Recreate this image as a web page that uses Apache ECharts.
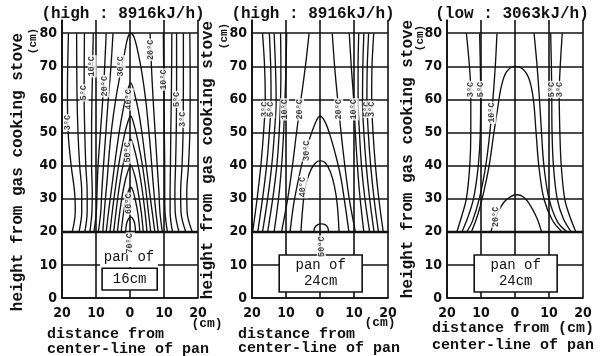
<!DOCTYPE html>
<html><head><meta charset="utf-8">
<script src="https://cdn.jsdelivr.net/npm/echarts@6/dist/echarts.min.js"></script>
<style>html,body{margin:0;padding:0;background:#fff}#c{width:609px;height:356px}</style>
</head><body><div id="c"></div>
<script>
// ---------- data ----------
const yTicks = [0, 10, 20, 30, 40, 50, 60, 70, 80];
const titles = ['(high : 8916kJ/h)', '(high : 8916kJ/h)', '(low : 3063kJ/h)'];
const panSizes = [16, 24, 24];
const yName = 'height from gas cooking stove';
const xName1 = ['distance from', 'distance from', 'distance from (cm)'];
const xName2 = 'center-line of pan';

// panel 1 : high 8916 kJ/h, pan of 16cm  (x cm, y cm)
const panel1Lines = [
  [[-18.1,80],[-18.4,62],[-18.2,50],[-17.3,40],[-16.3,32],[-16.1,26],[-17,20]],
  [[-15.7,80],[-15.6,62],[-15.3,50],[-14.8,40],[-14.2,32],[-14.2,26],[-15,20]],
  [[-13.4,80],[-13.5,62],[-13.3,50],[-13,40],[-12.6,32],[-12.6,26],[-13.3,20]],
  [[-10.8,80],[-11.1,65],[-11.3,50],[-11.3,40],[-11.1,32],[-11.2,26],[-11.8,20]],
  [[-7.0,80],[-7.7,65],[-8.7,50],[-9.4,40],[-9.7,32],[-9.9,26],[-10.6,20]],
  [[-5.0,80],[-5.6,70],[-6.4,60],[-7.1,50],[-7.8,40],[-8.3,32],[-8.6,26],[-9.3,20]],
  [[-8,20],[-7.4,28],[-6.7,36],[-6.1,44],[-5.3,52],[-4.2,60],[-2.8,68],[-1.6,74],[-0.7,78.5],[0.2,80],[1.2,78.8],[2.4,74],[3.5,68],[4.6,60],[5.4,52],[6.1,44],[6.7,36],[7.4,28],[8.3,20]],
  [[-7,20],[-6.2,27],[-5.3,34],[-4.3,42],[-3.2,50],[-2.1,56.5],[-1,61.5],[0.2,65],[1.4,61.5],[2.5,56.5],[3.5,50],[4.5,42],[5.5,34],[6.4,27],[7.3,20]],
  [[-5.9,20],[-5.1,27],[-4.2,34],[-3.2,41],[-2.1,47],[-1.1,51.5],[0.2,55],[1.4,51.5],[2.4,47],[3.5,41],[4.5,34],[5.3,27],[6.1,20]],
  [[-4.8,20],[-4,27],[-3.1,34],[-2.1,40],[-1.1,44.5],[0.2,48],[1.4,44.5],[2.4,40],[3.4,34],[4.3,27],[5,20]],
  [[-3.7,20],[-3,26],[-2.1,32],[-1,37],[0.2,40],[1.4,37],[2.4,32],[3.3,26],[3.9,20]],
  [[-2.6,20],[-2,25],[-1.3,29],[-0.5,32.3],[0.2,33.5],[0.9,32.3],[1.7,29],[2.4,25],[2.9,20]],
  [[-1.3,20],[-1,22.5],[-0.4,24],[0.2,24.5],[0.8,24],[1.4,22.5],[1.6,20]],
  [[5.9,80],[6.3,70],[6.8,60],[7.4,50],[8,40],[8.5,32],[8.8,26],[9.5,20]],
  [[9.8,80],[9.9,70],[10,60],[10.1,50],[10.2,40],[10.2,32],[10.3,26],[11,20]],
  [[12.3,80],[12.2,65],[12,50],[11.9,40],[11.8,32],[11.8,26],[12.5,20]],
  [[13.7,80],[13.7,65],[13.6,50],[13.4,40],[13.2,32],[13.3,26],[14.4,20]],
  [[15.7,80],[15.7,65],[15.6,50],[15.3,40],[14.9,32],[15,26],[16.4,20]],
  [[17.6,80],[17.7,65],[17.6,50],[17.2,40],[16.7,32],[16.8,26],[18.3,20]]
];
const panel1Labels = [
  [-18.2,53,'3°C'],[-13.5,62,'5°C'],[-11.1,70,'10°C'],[-7.4,64,'20°C'],[-2.6,70,'30°C'],
  [-0.2,60,'40°C'],[-0.6,44,'50°C'],[-0.4,28.5,'60°C'],[0.1,16.5,'70°C'],
  [6.1,75,'20°C'],[9.9,66,'10°C'],[13.7,60,'5°C'],[15.6,54,'3°C']
];

// panel 2 : high 8916 kJ/h, pan of 24cm
const panel2Lines = [
  [[-16.9,80],[-16.3,70],[-16.1,60],[-16.6,50],[-17.4,40],[-18.5,30],[-19.8,20]],
  [[-14.9,80],[-14.5,70],[-14.4,60],[-14.9,50],[-15.7,40],[-16.9,30],[-18.3,20]],
  [[-13.5,80],[-13.1,70],[-12.9,60],[-13.4,50],[-14.2,40],[-15.4,30],[-16.9,20]],
  [[-11.6,80],[-11.5,70],[-11.6,60],[-12,50],[-12.7,40],[-13.9,30],[-15.4,20]],
  [[-9.8,80],[-10,70],[-10.3,60],[-10.7,50],[-11.3,40],[-12.2,30],[-13.5,20]],
  [[-3.2,80],[-4.3,70],[-5.6,60],[-6.9,50],[-8.1,40],[-9.5,30],[-11.3,20]],
  [[-8.8,20],[-7.8,28],[-6.7,34],[-5.2,41],[-3.4,47],[-1.6,52.3],[0,55],[1.6,53],[3.3,48],[4.9,42],[6.2,36],[7.4,28],[8.5,20]],
  [[-5.6,20],[-5.1,27],[-4.4,33],[-3.2,37.5],[-1.6,40.5],[0,41.5],[1.6,40.8],[3.1,38],[4.3,33.5],[5.1,28],[5.6,20]],
  [[-1.8,20],[-1.6,21.2],[-0.8,22.1],[0.4,22.4],[1.6,22.1],[2.3,21.2],[2.5,20]],
  [[3.6,80],[4.3,70],[5.2,60],[6.2,50],[7.3,40],[8.6,30],[10.4,20]],
  [[8.6,80],[9.2,70],[9.9,60],[10.4,50],[11,40],[11.8,30],[12.9,20]],
  [[11.4,80],[11.2,70],[11.2,60],[11.6,50],[12.2,40],[13.2,30],[14.6,20]],
  [[12.9,80],[12.6,70],[12.5,60],[12.9,50],[13.6,40],[14.6,30],[15.9,20]],
  [[14.3,80],[13.9,70],[13.8,60],[14.2,50],[14.9,40],[15.9,30],[17.2,20]],
  [[15.8,80],[15.3,70],[15.2,60],[15.6,50],[16.3,40],[17.3,30],[18.6,20]]
];
const panel2Labels = [
  [-16.2,57,'3°C'],[-14.5,57,'5°C'],[-10.4,57,'10°C'],[-6.0,57,'20°C'],[-3.9,44.5,'30°C'],
  [-4.9,33.5,'40°C'],[0.4,15.5,'50°C'],[5.5,57,'20°C'],[10.1,57,'10°C'],[13.9,57,'5°C'],[15.3,57,'3°C']
];

// panel 3 : low 3063 kJ/h, pan of 24cm
const panel3Lines = [
  [[-14.3,80],[-13.4,70],[-13,62],[-13,50],[-13.3,40],[-14.3,30],[-15.6,25],[-17.1,20]],
  [[-10.4,80],[-10.2,70],[-10.1,62],[-10.2,50],[-10.8,40],[-12.2,30],[-14,24],[-15.6,20]],
  [[-5.3,80],[-5.8,70],[-6.5,60],[-7.4,50],[-8.6,40],[-10.5,30],[-12.6,23],[-14.2,20]],
  [[-12.8,20],[-11,25],[-9.2,32],[-7.6,40],[-6.2,50],[-5,58],[-4,64],[-2.5,68.3],[0,70],[2.5,69],[4.2,66],[5.4,60],[6.2,50],[7,40],[8.5,30],[11,23.5],[13.8,20]],
  [[5.6,80],[6.5,70],[7.2,60],[7.8,50],[8.5,40],[10,30],[12.5,23],[15.3,20]],
  [[10.5,80],[10.7,70],[10.8,62],[10.9,50],[11.3,40],[12.4,30],[14.2,24],[16.5,20]],
  [[13.9,80],[13.3,70],[13,62],[13.2,50],[13.6,40],[14.6,30],[16,25],[17.9,20]],
  [[-7.1,20],[-5.4,25],[-3.2,29],[-1,30.8],[0.5,31.2],[2.5,30.5],[4.5,28],[6.5,24],[7.8,20]]
];
const panel3Labels = [
  [-13,63,'3°C'],[-10.1,63,'5°C'],[-6.8,56,'10°C'],[-5.6,24.5,'20°C'],[10.8,63,'5°C'],[13.1,63,'3°C']
];

// ---------- layout / style ----------
const panels = [panel1Lines, panel2Lines, panel3Lines];
const panelLabels = [panel1Labels, panel2Labels, panel3Labels];
const gridLefts = [62, 252, 447];
const GW = 136, GT = 20, GH = 278;
const INK = '#111';
const MONO = '"Liberation Mono", "DejaVu Sans Mono", monospace';
const NUM = '"Liberation Sans Narrow", "DejaVu Sans Condensed", "Liberation Sans", sans-serif';

const grids = [], xAxes = [], yAxes = [], series = [], graphics = [];
gridLefts.forEach((left, i) => {
  grids.push({ left: left, top: GT, width: GW, height: GH });
  xAxes.push({
    type: 'value', gridIndex: i, min: -20, max: 20, interval: 10,
    axisLine: { show: true, onZero: false, lineStyle: { color: INK, width: 1.7 } },
    axisTick: { show: false },
    splitLine: { show: true, lineStyle: { color: INK, width: 1.6 } },
    axisLabel: { formatter: v => String(Math.abs(v)), color: INK, fontFamily: NUM, fontWeight: 'bold', fontSize: 14, margin: 8 }
  });
  yAxes.push({
    type: 'value', gridIndex: i, min: 0, max: 84, interval: 10,
    axisLine: { show: true, onZero: false, lineStyle: { color: INK, width: 1.7 } },
    axisTick: { show: false },
    splitLine: { show: false },
    axisLabel: { formatter: v => (v > 80 ? '' : String(v)), color: INK, fontFamily: NUM, fontWeight: 'bold', fontSize: 14, margin: 5 }
  });
  const half = panSizes[i] / 2;
  const areas = [];
  if (i === 0) {
    areas.push([{ coord: [-8.8, 9.4], itemStyle: { color: '#fff', borderWidth: 0 },
                  label: { show: true, position: 'inside', formatter: 'pan of', color: INK, fontFamily: MONO, fontSize: 14, offset: [0, -1] } },
                { coord: [8.2, 14.4] }]);
    areas.push([{ coord: [-half - 0.2, 2.4], itemStyle: { color: '#fff', borderColor: INK, borderWidth: 1.6 },
                  label: { show: true, position: 'inside', formatter: panSizes[i] + 'cm', color: INK, fontFamily: MONO, fontSize: 14 } },
                { coord: [half, 9] }]);
  } else {
    areas.push([{ coord: [-half, 1.8], itemStyle: { color: '#fff', borderColor: INK, borderWidth: 1.6 },
                  label: { show: true, position: 'inside', formatter: 'pan of\n' + panSizes[i] + 'cm', color: INK, fontFamily: MONO, fontSize: 14, lineHeight: 16 } },
                { coord: [half + 0.4, 13] }]);
  }
  series.push({
    type: 'line', xAxisIndex: i, yAxisIndex: i, data: [], symbol: 'none', silent: true, animation: false,
    markLine: {
      silent: true, z: 1, animation: false, symbol: ['none', 'none'], label: { show: false },
      lineStyle: { color: INK, type: 'solid', width: 1.6 },
      data: yTicks.map(v => ({ yAxis: v, lineStyle: { color: INK, type: 'solid', width: v === 20 ? 2.3 : 1.6 } }))
    },
    markArea: { silent: true, z: 3, animation: false, data: areas }
  });
  panels[i].forEach(pts => {
    series.push({
      type: 'line', xAxisIndex: i, yAxisIndex: i, data: pts, smooth: 0.35, symbol: 'none',
      lineStyle: { color: INK, width: 1.35 }, z: 2, silent: true, animation: false
    });
  });
  series.push({
    type: 'scatter', xAxisIndex: i, yAxisIndex: i, z: 5, silent: true, animation: false,
    symbolSize: 1, itemStyle: { color: 'rgba(0,0,0,0)' },
    data: panelLabels[i].map(d => ({ value: [d[0], d[1]], name: d[2] })),
    label: { show: true, position: 'inside', formatter: '{b}', rotate: 90, fontSize: 8.5, fontWeight: 'bold', fontFamily: MONO,
             color: INK, backgroundColor: '#fff', padding: [0, 1] }
  });
});

const titleX = [123, 313, 512];
const yNameX = [18, 208, 408];
const yNameY = [172, 160, 159];
const yUnitX = [33, 224, 420];
const yUnitY = [41, 36, 38];
const xNameX = [47, 238, 432];
const xNameY1 = [334, 334, 328];
const xNameY2 = [349, 348, 345];
const txt = (x, y, text, size, align, rot) => ({
  type: 'text', x: x, y: y, rotation: rot || 0, silent: true,
  style: { text: text, font: 'bold ' + size + 'px ' + MONO, fill: INK, textAlign: align || 'center', textVerticalAlign: 'middle' }
});
for (let i = 0; i < 3; i++) {
  graphics.push(txt(titleX[i], 14, titles[i], 16, 'center'));
  graphics.push(txt(yNameX[i], yNameY[i], yName, 16, 'center', Math.PI / 2));
  graphics.push(txt(yUnitX[i], yUnitY[i], '(cm)', 11, 'center', Math.PI / 2));
  graphics.push(txt(xNameX[i], xNameY1[i], xName1[i], 15, 'left'));
  graphics.push(txt(xNameX[i], xNameY2[i], xName2, 15, 'left'));
}
graphics.push(txt(207, 324, '(cm)', 13, 'center'));
graphics.push(txt(380, 323, '(cm)', 13, 'center'));

const chart = echarts.init(document.getElementById('c'), null, { renderer: 'canvas' });
chart.setOption({
  animation: false,
  backgroundColor: '#fff',
  grid: grids, xAxis: xAxes, yAxis: yAxes, series: series, graphic: graphics
});
</script></body></html>
